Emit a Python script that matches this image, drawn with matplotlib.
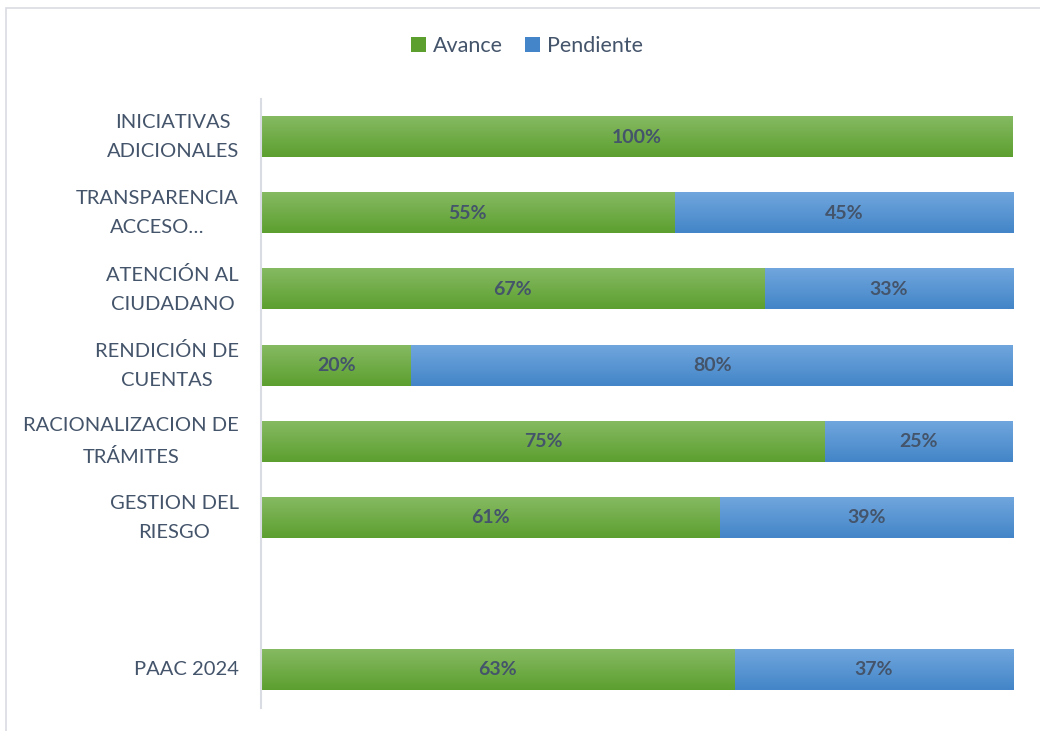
import numpy as np
import matplotlib
matplotlib.use("Agg")
import matplotlib.pyplot as plt
from matplotlib.patches import Rectangle, Patch
from matplotlib.colors import LinearSegmentedColormap

plt.rcParams['font.family'] = ['Lato', 'DejaVu Sans']

categories = ["INICIATIVAS\nADICIONALES", "TRANSPARENCIA\nACCESO…", "ATENCIÓN AL\nCIUDADANO",
              "RENDICIÓN DE\nCUENTAS", "RACIONALIZACION DE\nTRÁMITES", "GESTION DEL\nRIESGO",
              "", "PAAC 2024"]
avance = [100, 55, 67, 20, 75, 61, None, 63]
pendiente = [0, 45, 33, 80, 25, 39, None, 37]
series_names = ["Avance", "Pendiente"]

TEXT = "#44546a"
GREEN = ("#86ba62", "#5c9f2f")
BLUE = ("#70a6dd", "#4385c8")

fig = plt.figure(figsize=(10.4, 7.31), dpi=100)
# outer chart frame
fig.patches.append(Rectangle((6 / 1040, -0.05), 1.1, 1 - 8 / 731 + 0.05,
                             transform=fig.transFigure, fill=False,
                             edgecolor="#d9dce3", linewidth=1.2))

ax = fig.add_axes([261 / 1040, 1 - 708 / 731, (1013 - 261) / 1040, (708 - 99) / 731])
n = len(categories)
bar_h = 0.53


def grad_bar(y, left, width, colors):
    cmap = LinearSegmentedColormap.from_list("g", [colors[0], colors[1]])
    grad = np.linspace(0, 1, 64).reshape(-1, 1)
    ax.imshow(grad, cmap=cmap, aspect="auto", interpolation="bilinear",
              extent=(left, left + width, y + bar_h / 2, y - bar_h / 2), zorder=2)


for i, (a, p) in enumerate(zip(avance, pendiente)):
    if a is None:
        continue
    grad_bar(i, 0, a, GREEN)
    ax.text(a / 2, i, f"{a}%", ha="center", va="center", fontsize=14,
            fontweight="bold", color=TEXT, zorder=3)
    if p:
        grad_bar(i, a, p, BLUE)
        ax.text(a + p / 2, i, f"{p}%", ha="center", va="center", fontsize=14,
                fontweight="bold", color=TEXT, zorder=3)

ax.set_xlim(0, 100)
ax.set_ylim(n - 0.5, -0.5)
ax.set_yticks(range(n))
ax.set_yticklabels(categories, fontsize=14.5, color=TEXT, linespacing=1.88,
                   multialignment="center", va="center")
ax.tick_params(axis="y", length=0, pad=16)
ax.set_xticks([])
for s in ["top", "right", "bottom"]:
    ax.spines[s].set_visible(False)
ax.spines["left"].set_color("#d9dce3")
ax.spines["left"].set_linewidth(1.5)

handles = [Patch(facecolor=GREEN[1], edgecolor="none"), Patch(facecolor=BLUE[1], edgecolor="none")]
fig.legend(handles, series_names, loc="center", bbox_to_anchor=(527 / 1040, 1 - 46 / 731),
           ncol=2, frameon=False, fontsize=15.5, labelcolor=TEXT, handlelength=0.7,
           handleheight=0.7, handletextpad=0.35, columnspacing=1.0)

fig.savefig("out.png", dpi=100)
